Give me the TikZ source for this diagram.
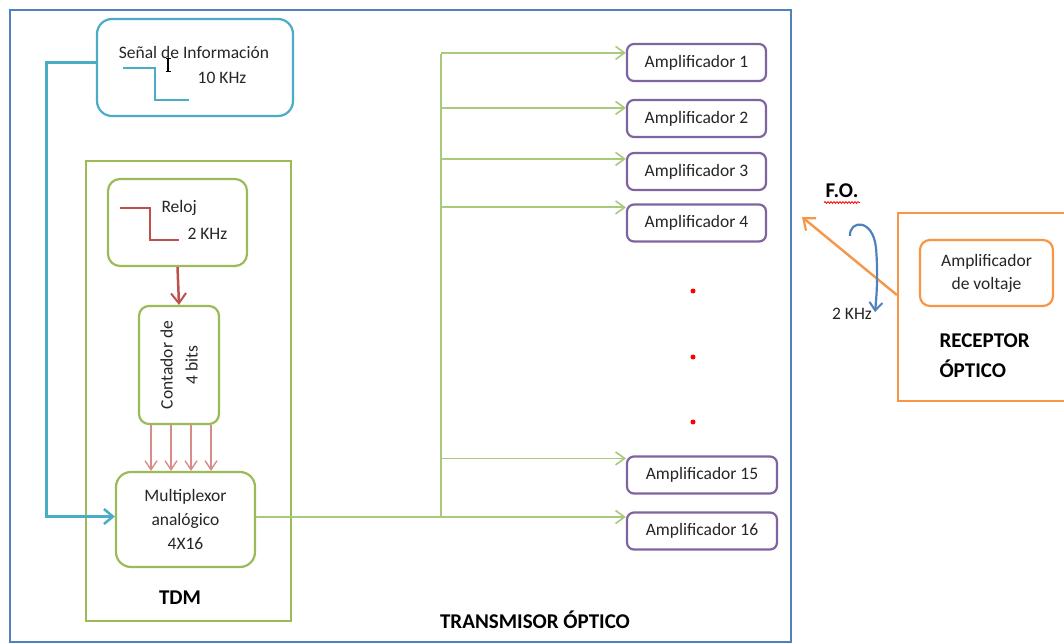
\documentclass[tikz,border=0pt]{standalone}
\usepackage{fontspec}
\setmainfont{Carlito}
\usetikzlibrary{arrows.meta,decorations.pathmorphing}
\definecolor{cblue}{HTML}{4F81BD}
\definecolor{cteal}{HTML}{4BACC6}
\definecolor{cgreen}{HTML}{9BBB59}
\definecolor{lgreen}{HTML}{A9C97C}
\definecolor{cpurple}{HTML}{8064A2}
\definecolor{cred}{HTML}{C0504D}
\definecolor{lred}{HTML}{D88C8A}
\definecolor{corange}{HTML}{F79646}
\definecolor{ctext}{HTML}{262626}
\begin{document}
\begin{tikzpicture}[x=1pt,y=-1pt,
  txt/.style={font=\fontsize{17.5}{23}\selectfont, text=ctext},
  lbl/.style={font=\fontsize{21}{30}\selectfont\bfseries, text=black},
  box/.style={draw, line width=2.2pt, rounded corners=#1, inner sep=0pt},
  frame/.style={draw, line width=2.2pt, inner sep=0pt},
  amp/.style={box=7pt, draw=cpurple, minimum height=37pt, txt},
  garrow/.style={draw=lgreen, line width=1.8pt, -{Straight Barb[length=9pt,width=13pt,line width=1.6pt]}},
  rarrow/.style={draw=lred, line width=1.5pt, -{Straight Barb[length=9pt,width=12pt,line width=1.4pt]}},
  wave/.style={line width=2.5pt},
  reddot/.style={circle, fill=red, inner sep=0pt, minimum size=5pt}
]
\useasboundingbox (0,0) rectangle (1064,644);
\clip (0,0) rectangle (1064,644);
\fill[white] (0,0) rectangle (1064,644);

% outer transmitter frame
\node[frame, draw=cblue, line width=2pt, minimum width=781pt, minimum height=632pt] (tx) at (400.5,326) {};
\node[lbl, anchor=base] (txl) at (535,628) {TRANSMISOR ÓPTICO};

% information signal
\node[box=15pt, draw=cteal, minimum width=196pt, minimum height=97pt] (sen) at (195,67.5) {};
\node[txt, anchor=base] (sent) at (194,59) {Señal de Información};
\node[txt, anchor=base] (senf) at (222,84) {10 KHz};
\draw[wave, cteal] (123,68) -- (155,68) -- (155,100) -- (189,100);
\draw[line width=2pt, black] (168,59) -- (168,72);
\draw[line width=1pt, black] (165.5,59) -- (170.5,59) (165.5,72) -- (170.5,72);

% TDM block
\node[frame, draw=cgreen, minimum width=205pt, minimum height=460pt] (tdm) at (188.5,391) {};
\node[lbl, anchor=base] (tdml) at (180,604) {TDM};

\node[box=12pt, draw=cgreen, minimum width=139pt, minimum height=87pt] (rel) at (177.5,222.5) {};
\node[txt, anchor=base west] (relt) at (158,213) {Reloj};
\node[txt, anchor=base west] (relf) at (184,239) {2 KHz};
\draw[wave, cred] (120,208) -- (150,208) -- (150,240) -- (179,240);

\node[box=10pt, draw=cgreen, minimum width=80pt, minimum height=118pt] (cnt) at (179,365) {};
\node[txt, rotate=90, align=center, font=\fontsize{17.5}{25}\selectfont] (cntt) at (cnt.center) {Contador de\\4 bits};

\node[box=15pt, draw=cgreen, minimum width=139pt, minimum height=95pt, txt, align=center, font=\fontsize{17.5}{24}\selectfont] (mux) at (185.5,519.5) {Multiplexor\\analógico\\4X16};

\draw[draw=cred, line width=2.5pt, -{Straight Barb[length=10pt,width=15pt,line width=2pt]}] (rel.south) -- (cnt.north);
\foreach \dx/\n in {-28/1,-8/2,12/3,32/4}{
  \coordinate (c\n) at ([xshift=\dx pt]cnt.south);
  \draw[rarrow] (c\n) -- (c\n |- mux.north);
}

% signal to multiplexer
\draw[draw=cteal, line width=3pt, -{Straight Barb[length=9pt,width=15pt,line width=2.5pt]}]
  ([yshift=4.5pt]sen.west) -- ++(-49,0) |- ([yshift=3pt]mux.west);

% amplifiers
\node[amp, minimum width=139pt] (a1) at (696.5,62.5) {Amplificador 1};
\node[amp, minimum width=139pt] (a2) at (696.5,118.5) {Amplificador 2};
\node[amp, minimum width=139pt] (a3) at (696.5,171.5) {Amplificador 3};
\node[amp, minimum width=139pt] (a4) at (696.5,223) {Amplificador 4};
\node[amp, minimum width=150pt] (a15) at (702,475) {Amplificador 15};
\node[amp, minimum width=150pt] (a16) at (702,531) {Amplificador 16};

\node[reddot] (d1) at (693,291) {};
\node[reddot] (d2) at (693,357) {};
\node[reddot] (d3) at (693,422) {};

\coordinate (tt) at (441,54);
\coordinate (mo) at ([yshift=2.5pt]mux.east);
\draw[draw=lgreen, line width=1.8pt] (mo) -- (mo -| tt) -- (tt);
\foreach \a/\off in {a1/10,a2/9,a3/7,a4/4,a15/3}{
  \coordinate (p\a) at ([yshift=-\off pt]\a.north west);
  \draw[garrow] (p\a -| tt) -- (p\a);
}
\draw[garrow] (mo -| tt) -- (mo -| a16.west);

% receiver
\node[frame, draw=corange, minimum width=182pt, minimum height=188pt] (rx) at (989,307) {};
\node[box=10pt, draw=corange, minimum width=133pt, minimum height=66pt, txt, align=center, font=\fontsize{17.5}{23}\selectfont] (av) at (986.5,273) {Amplificador\\de voltaje};
\node[lbl, anchor=base west] (rxl1) at (936,347) {RECEPTOR};
\node[lbl, anchor=base west] (rxl2) at (936,377) {ÓPTICO};

% fibre link
\coordinate (fo) at (802,217);
\draw[draw=corange, line width=2.4pt, -{Straight Barb[length=10pt,width=16pt,line width=2.2pt]}] ([yshift=12pt]rx.west) -- (fo);
\node[lbl, anchor=base] (fol) at (842,198) {F.O.};
\draw[red, line width=0.8pt, decorate, decoration={snake, amplitude=0.9pt, segment length=3pt}] (824,202.5) -- (860,202.5);
\draw[draw=cblue, line width=2.2pt, -{Straight Barb[length=8pt,width=13pt,line width=2pt]}]
  (850,236) .. controls (849,220) and (873,218) .. (876,248) .. controls (878,272) and (877,292) .. (875,312);
\node[txt, anchor=base] (fof) at (852,319) {2 KHz};
\end{tikzpicture}
\end{document}
